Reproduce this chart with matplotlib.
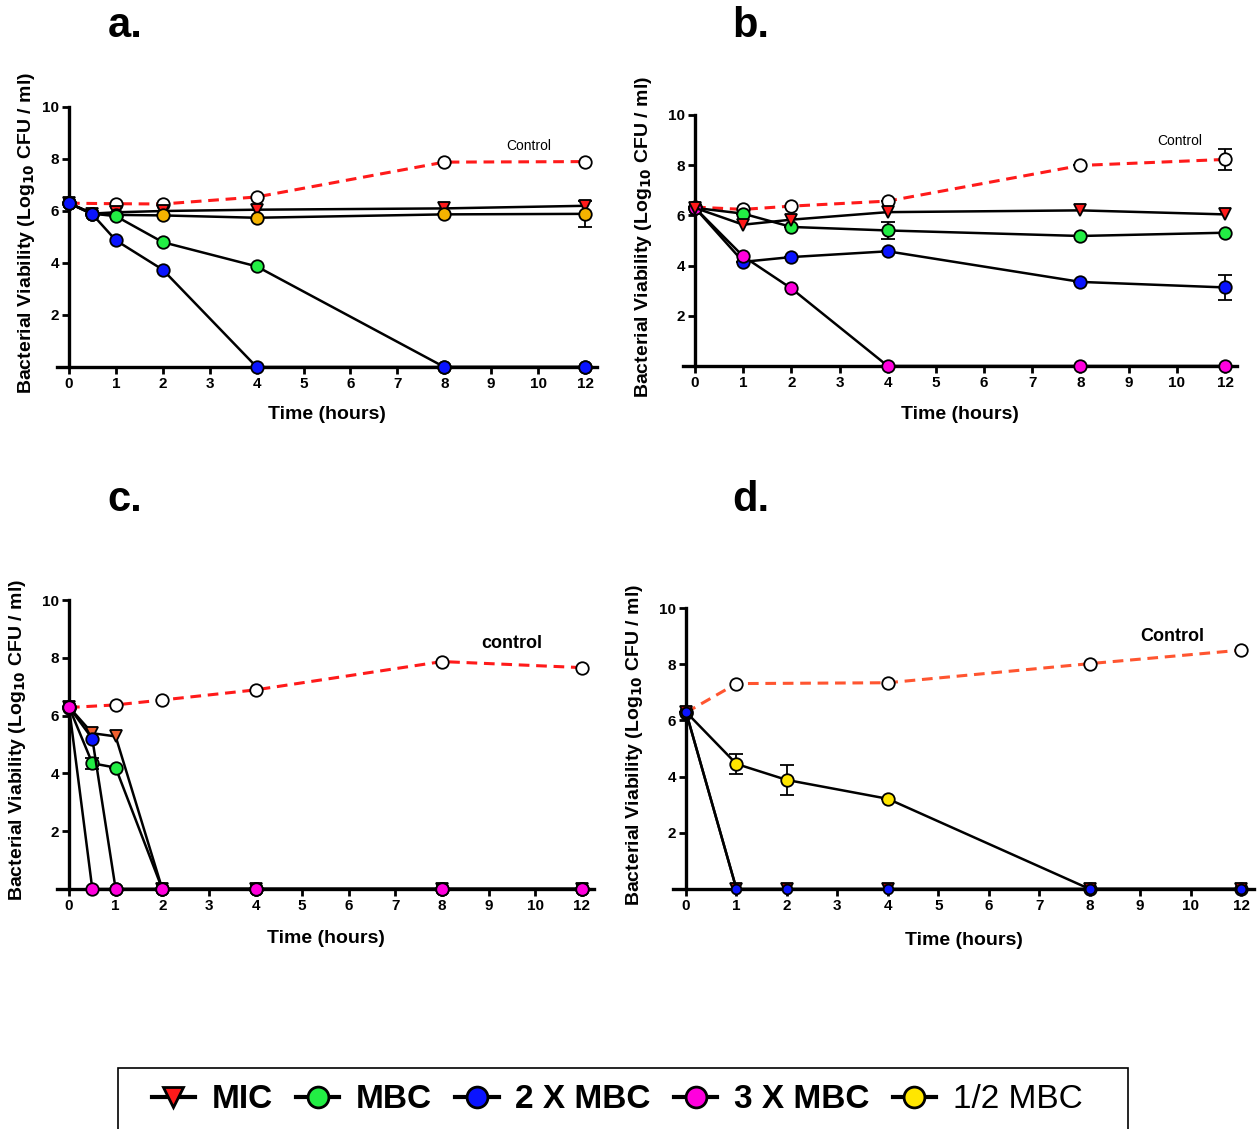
import numpy as np
import matplotlib
matplotlib.use('Agg')
import matplotlib.pyplot as plt
from matplotlib.lines import Line2D
from matplotlib.patches import Rectangle

plt.rcParams['font.family'] = ['Liberation Sans', 'DejaVu Sans']

# ===== data (Log10 CFU/ml) =====
T6 = [0, 1, 2, 4, 8, 12]
T7 = [0, 0.5, 1, 2, 4, 8, 12]
T5 = [0, 1, 4, 8, 12]

# x tick labels: 11 is skipped, 12 sits at slot 11
tick_hours = [0, 1, 2, 3, 4, 5, 6, 7, 8, 9, 10, 12]
tick_labels = [str(h) for h in tick_hours]

# a.
a_control = [6.3, 6.28, 6.27, 6.54, 7.88, 7.9]
a_mic = [6.3, 5.9, 5.95, 6.0, 6.05, 6.1, 6.2]
a_mbc = [6.3, 5.9, 5.8, 4.8, 3.87, 0, 0]
a_2x = [6.3, 5.87, 4.87, 3.74, 0, 0, 0]
a_half = [6.3, 5.9, 5.85, 5.83, 5.74, 5.87, 5.89]
a_half_err = [0, 0, 0, 0, 0, 0, 0.5]

# b.
b_control = [6.33, 6.24, 6.37, 6.57, 7.99, 8.23]
b_control_err = [0, 0, 0, 0, 0, 0.43]
b_mic = [6.3, 5.63, 5.83, 6.13, 6.2, 6.04]
b_mbc = [6.3, 6.07, 5.54, 5.4, 5.18, 5.31]
b_mbc_err = [0, 0, 0, 0.35, 0, 0]
b_2x = [6.3, 4.15, 4.34, 4.57, 3.35, 3.13]
b_2x_err = [0, 0, 0, 0, 0, 0.5]
b_3x = [6.3, 4.37, 3.09, 0, 0, 0]

# c.
c_control = [6.28, 6.37, 6.54, 6.89, 7.87, 7.66]
c_mic = [6.3, 5.39, 5.28, 0, 0, 0, 0]
c_mbc = [6.3, 4.35, 4.2, 0, 0, 0, 0]
c_mbc_err = [0, 0.2, 0, 0, 0, 0, 0]
c_2x = [6.3, 5.2, 0, 0, 0, 0, 0]
c_3x = [6.3, 0, 0, 0, 0, 0, 0]

# d.
d_control = [6.28, 7.31, 7.34, 8.02, 8.5]
d_mic = [6.3, 0, 0, 0, 0, 0]
d_2x = [6.3, 0, 0, 0, 0, 0]
d_half = [6.3, 4.45, 3.88, 3.21, 0, 0]
d_half_err = [0, 0.35, 0.52, 0, 0, 0]

# colours
RED = '#ff1a1a'
GREEN = '#22ee44'
BLUE = '#0a14ff'
MAGENTA = '#ff00dd'
YELLOW = '#ffe600'
ORANGE = '#f5b300'

W, H = 1260, 1129


def pos(t):
    return np.interp(t, tick_hours, np.arange(len(tick_hours)))


def make_ax(fig, x0, x11, y10, y0):
    # x0/x11: pixel of slot 0 / slot 11, y10/y0: pixel of 10 / 0
    unit = (x11 - x0) / 11.0
    left = x0 - 0.25 * unit
    right = x11 + 0.25 * unit
    ax = fig.add_axes([left / W, 1 - y0 / H, (right - left) / W, (y0 - y10) / H])
    ax.set_xlim(-0.25, 11.25)
    ax.set_ylim(0, 10)
    ax.spines['left'].set_position(('data', 0))
    ax.spines['right'].set_visible(False)
    ax.spines['top'].set_visible(False)
    for s in ['left', 'bottom']:
        ax.spines[s].set_linewidth(2.4)
    ax.set_xticks(np.arange(len(tick_hours)))
    ax.set_xticklabels(tick_labels)
    ax.set_yticks([2, 4, 6, 8, 10])
    ax.tick_params(length=5, width=2, labelsize=11, pad=2)
    for lab in ax.get_xticklabels() + ax.get_yticklabels():
        lab.set_fontweight('bold')
    ax.patch.set_visible(False)
    return ax, left, right


def series(ax, t, y, face, marker='o', ms=9, err=None, z=3):
    x = pos(t)
    ax.plot(x, y, color='black', lw=1.8, marker=marker, ms=ms, mfc=face,
            mec='black', mew=1.3, clip_on=False, zorder=z)
    if err is not None:
        ax.errorbar(x, y, yerr=err, fmt='none', ecolor='black', elinewidth=1.3,
                    capsize=5, capthick=1.3, zorder=z - 0.5, clip_on=False)


def control(ax, t, y, color, err=None):
    x = pos(t)
    ax.plot(x, y, color=color, lw=2.2, ls=(0, (3.5, 2.2)), marker='o', ms=9,
            mfc='white', mec='black', mew=1.3, clip_on=False, zorder=2)
    if err is not None:
        ax.errorbar(x, y, yerr=err, fmt='none', ecolor='black', elinewidth=1.3,
                    capsize=5, capthick=1.3, zorder=1.5)


def labels(ax, left, right, y10, y0, ylab_x, ylab_y, xlab_y):
    ax.set_ylabel('Bacterial Viability (Log$_{\\mathbf{10}}$ CFU / ml)',
                  fontsize=14, fontweight='bold')
    # label coord is the right edge of the rotated text
    ax.yaxis.set_label_coords((ylab_x + 9 - left) / (right - left),
                              (y0 - ylab_y) / (y0 - y10))
    ax.set_xlabel('Time (hours)', fontsize=14, fontweight='bold')
    ax.xaxis.set_label_coords(0.5, (y0 - xlab_y + 8) / (y0 - y10))


fig = plt.figure(figsize=(W / 100, H / 100), dpi=100)

# ----- a -----
ax, l, r = make_ax(fig, 69, 585, 107, 367)
control(ax, T6, a_control, RED)
series(ax, T7, a_mic, RED, marker='v', z=4)
series(ax, T7, a_half, ORANGE, err=a_half_err, z=4)
series(ax, T7, a_mbc, GREEN, z=5)
series(ax, T7, a_2x, BLUE, z=6)
ax.text(9.8, 8.5, 'Control', fontsize=10, ha='center', va='center')
labels(ax, l, r, 107, 367, 28, 233, 414)

# ----- b -----
ax, l, r = make_ax(fig, 695, 1225, 115, 366)
control(ax, T6, b_control, RED, err=b_control_err)
series(ax, T6, b_mbc, GREEN, err=b_mbc_err, z=3)
series(ax, T6, b_2x, BLUE, err=b_2x_err, z=4)
series(ax, T6, b_3x, MAGENTA, z=5)
series(ax, T6, b_mic, RED, marker='v', z=6)
ax.text(10.06, 8.96, 'Control', fontsize=10, ha='center', va='center')
labels(ax, l, r, 115, 366, 645, 237, 414)

# ----- c -----
ax, l, r = make_ax(fig, 69, 582, 600, 889)
control(ax, T6, c_control, RED)
series(ax, T7, c_mic, '#f06030', marker='v', z=3)
series(ax, T7, c_mbc, GREEN, err=c_mbc_err, z=4)
series(ax, T7, c_2x, BLUE, z=5)
series(ax, T7, c_3x, MAGENTA, z=6)
ax.text(9.5, 8.5, 'control', fontsize=13, fontweight='bold', ha='center', va='center')
labels(ax, l, r, 600, 889, 19, 740, 938)

# ----- d -----
ax, l, r = make_ax(fig, 686, 1241, 608, 889)
control(ax, T5, d_control, '#ff5530')
series(ax, T6, d_half, YELLOW, err=d_half_err, z=3)
series(ax, T6, d_mic, '#b00000', marker='v', ms=8, z=4)
series(ax, T6, d_2x, BLUE, ms=7, z=5)
ax.text(9.63, 8.97, 'Control', fontsize=13, fontweight='bold', ha='center', va='center')
labels(ax, l, r, 608, 889, 636, 745, 940)

# panel letters
for letter, x, y in [('a.', 125, 26), ('b.', 751, 26), ('c.', 125, 500), ('d.', 751, 500)]:
    fig.text(x / W, 1 - y / H, letter, fontsize=30, fontweight='bold',
             ha='center', va='center')

# ===== legend =====
fig.patches.append(Rectangle((118 / W, 1 - 1140 / H), 1010 / W, 72 / H,
                             transform=fig.transFigure, fill=False,
                             edgecolor='black', lw=1.2))
leg_names = ['MIC', 'MBC', '2 X MBC', '3 X MBC', '1/2 MBC']
leg_colors = [RED, GREEN, BLUE, MAGENTA, YELLOW]
leg_markers = ['v', 'o', 'o', 'o', 'o']
handles = [Line2D([], [], color='black', lw=3, marker=m, ms=15, mfc=c,
                  mec='black', mew=2) for m, c in zip(leg_markers, leg_colors)]
leg = fig.legend(handles, leg_names, loc='center', ncol=5, frameon=False,
                 bbox_to_anchor=(617 / W, 1 - 1100 / H), handlelength=1.3,
                 handletextpad=0.5, columnspacing=0.7,
                 prop={'weight': 'bold', 'size': 24})
leg.get_texts()[-1].set_fontweight('normal')

fig.savefig('out.png', dpi=100)
